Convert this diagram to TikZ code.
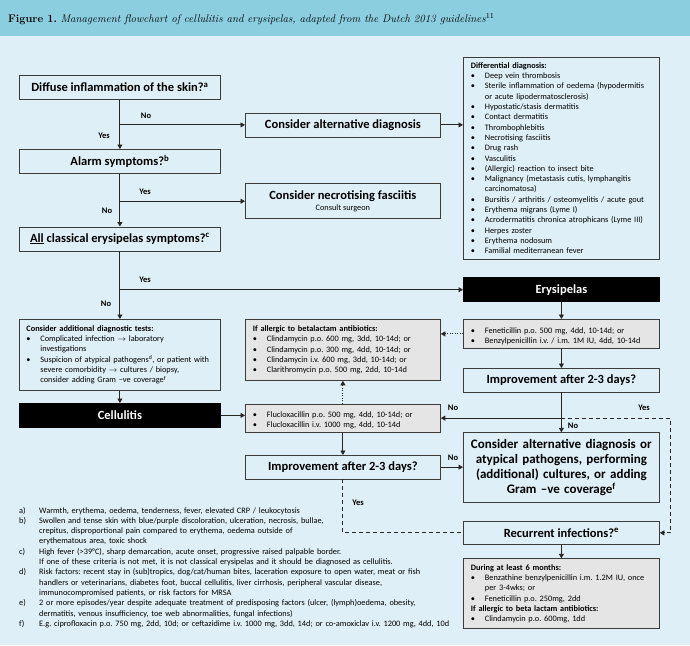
\documentclass[tikz,border=0pt]{standalone}
\usepackage{fontspec}
\newfontfamily\chartfont{Carlito}
\usetikzlibrary{arrows.meta}
\setlength{\parindent}{0pt}
\frenchspacing
\definecolor{headblue}{RGB}{139,206,224}
\definecolor{paleblue}{RGB}{222,239,247}
\definecolor{boxgrey}{RGB}{229,229,229}
\definecolor{edgegrey}{RGB}{60,60,60}
\newcommand{\itm}[1]{\par\hangindent=14pt\hangafter=1\noindent\makebox[14pt][l]{\textbullet}#1\par}
\newcommand{\fnote}[2]{\par\hangindent=20pt\hangafter=1\noindent\makebox[20pt][l]{#1}#2\par}
\begin{document}
\begin{tikzpicture}[x=1pt,y=-1pt,
    box/.style={draw=edgegrey,line width=0.8pt,fill=paleblue,anchor=north west,inner sep=0pt,font=\qfontsize},
    qbox/.style={box,align=center,minimum height=24pt},
    listbox/.style={box,align=left,inner xsep=7.5pt,font=\listfontsize},
    greybox/.style={listbox,fill=boxgrey},
    blackbox/.style={qbox,fill=black,draw=black,text=white},
    link/.style={draw=black!85,line width=0.9pt,-{Triangle[width=5pt,length=4.5pt]}},
    dotlink/.style={link,dash pattern=on 1pt off 1.5pt},
    dashlink/.style={draw=black!85,line width=0.9pt,dash pattern=on 4pt off 3pt},
    answer/.style={font=\answerfontsize,inner sep=0pt}]
    \pgfmathsetmacro{\colA}{19}
    \pgfmathsetmacro{\colB}{245}
    \pgfmathsetmacro{\colC}{463}
    \pgfmathsetmacro{\wA}{201}
    \pgfmathsetmacro{\wB}{195}
    \pgfmathsetmacro{\wC}{196}
    \providecommand{\headfontsize}{\fontsize{11}{13}\selectfont}
    \providecommand{\qfontsize}{\chartfont\bfseries\fontsize{12.5}{14}\selectfont}
    \providecommand{\bigfontsize}{\chartfont\bfseries\fontsize{13}{15}\selectfont}
    \providecommand{\listfontsize}{\chartfont\fontsize{8.3}{10.3}\selectfont}
    \providecommand{\answerfontsize}{\chartfont\bfseries\fontsize{8.5}{9}\selectfont}
    \useasboundingbox (0,0) rectangle (690,645);
    \fill[paleblue] (0,0) rectangle (690,645);
    \fill[headblue] (0,0) rectangle (690,36);
    \node[anchor=base west,inner sep=0pt,font=\headfontsize] (title) at (8,22.5)
    {\textbf{Figure \oldstylenums{1}.} \textit{Management flowchart of cellulitis and erysipelas, adapted from the Dutch \oldstylenums{2013} guidelines}\textsuperscript{\oldstylenums{11}}};
    % left column
    \node[qbox,minimum width=\wA pt] (diffuse) at (\colA,75) {Diffuse inflammation of the skin?\textsuperscript{a}};
    \node[qbox,minimum width=\wA pt] (alarm) at (\colA,149) {Alarm symptoms?\textsuperscript{b}};
    \node[qbox,minimum width=\wA pt] (allsym) at (\colA,226.5) {\underline{All} classical erysipelas symptoms?\textsuperscript{c}};
    \node[listbox,inner xsep=7pt,text width=\wA pt-14pt,minimum height=71pt] (addtest) at (\colA,319)
    {\textbf{Consider additional diagnostic tests:}
    \itm{Complicated infection $\rightarrow$ laboratory\newline investigations}
    \itm{Suspicion of atypical pathogens\textsuperscript{d}, or patient with\newline severe comorbidity $\rightarrow$ cultures / biopsy,\newline consider adding Gram –ve coverage\textsuperscript{f}}};
    \node[blackbox,minimum width=\wA pt] (cellulitis) at (\colA,403) {Cellulitis};
    % middle column
    \node[qbox,minimum width=\wB pt] (altdiag) at (\colB,112.5) {Consider alternative diagnosis};
    \node[qbox,minimum width=\wB pt,minimum height=35pt] (necro) at (\colB,183.3)
    {Consider necrotising fasciitis\\[-3pt]{\chartfont\mdseries\fontsize{8.3}{9}\selectfont Consult surgeon}};
    \node[greybox,text width=\wB pt-15pt,minimum height=61pt] (allergic) at (\colB,319)
    {\textbf{If allergic to betalactam antibiotics:}
    \itm{Clindamycin p.o. 600 mg, 3dd, 10-14d; or}
    \itm{Clindamycin p.o. 300 mg, 4dd, 10-14d; or}
    \itm{Clindamycin i.v. 600 mg, 3dd, 10-14d; or}
    \itm{Clarithromycin p.o. 500 mg, 2dd, 10-14d}};
    \node[greybox,text width=\wB pt-15pt,minimum height=28.5pt] (fluclox) at (\colB,403.5)
    {\itm{Flucloxacillin p.o. 500 mg, 4dd, 10-14d; or}
    \itm{Flucloxacillin i.v. 1000 mg, 4dd, 10-14d}};
    \node[qbox,minimum width=\wB pt,minimum height=23.5pt] (improveL) at (\colB,455) {Improvement after 2-3 days?};
    % right column
    \node[listbox,text width=\wC pt-15pt,minimum height=201.5pt] (diffdiag) at (\colC,57)
    {\textbf{Differential diagnosis:}
    \itm{Deep vein thrombosis}
    \itm{Sterile inflammation of oedema (hypodermitis\newline or acute lipodermatosclerosis)}
    \itm{Hypostatic/stasis dermatitis}
    \itm{Contact dermatitis}
    \itm{Thrombophlebitis}
    \itm{Necrotising fasciitis}
    \itm{Drug rash}
    \itm{Vasculitis}
    \itm{(Allergic) reaction to insect bite}
    \itm{Malignancy (metastasis cutis, lymphangitis\newline carcinomatosa)}
    \itm{Bursitis / arthritis / osteomyelitis / acute gout}
    \itm{Erythema migrans (Lyme I)}
    \itm{Acrodermatitis chronica atrophicans (Lyme III)}
    \itm{Herpes zoster}
    \itm{Erythema nodosum}
    \itm{Familial mediterranean fever}};
    \node[blackbox,minimum width=\wC pt] (erys) at (\colC,277.3) {Erysipelas};
    \node[greybox,text width=\wC pt-15pt,minimum height=29pt] (fenet) at (\colC,319)
    {\itm{Feneticillin p.o. 500 mg, 4dd, 10-14d; or}
    \itm{Benzylpenicillin i.v. / i.m. 1M IU, 4dd, 10-14d}};
    \node[qbox,minimum width=\wC pt,minimum height=23.5pt] (improveR) at (\colC,368) {Improvement after 2-3 days?};
    \node[box,minimum width=\wC pt,minimum height=70pt,text width=\wC pt-10pt,align=center,font=\bigfontsize] (altbig) at (\colC,432.3)
    {Consider alternative diagnosis or\\atypical pathogens, performing\\(additional) cultures, or adding\\Gram –ve coverage\textsuperscript{f}};
    \node[qbox,minimum width=\wC pt,minimum height=23.5pt] (recur) at (\colC,520.7) {Recurrent infections?\textsuperscript{e}};
    \node[greybox,text width=\wC pt-15pt,minimum height=70pt] (during) at (\colC,558.3)
    {\textbf{During at least 6 months:}
    \itm{Benzathine benzylpenicillin i.m. 1.2M IU, once\newline per 3-4wks; or}
    \itm{Feneticillin p.o. 250mg, 2dd}
    \noindent\textbf{If allergic to beta lactam antibiotics:}
    \itm{Clindamycin p.o. 600mg, 1dd}};
    % connectors
    \draw[link] (diffuse) -- (alarm);
    \draw[link] (diffuse.south |- altdiag.west) -- (altdiag.west);
    \draw[link] (altdiag.east) -- (altdiag.east -| diffdiag.west);
    \draw[link] (alarm) -- (allsym);
    \draw[link] (alarm.south |- necro.west) -- (necro.west);
    \draw[link] (allsym) -- (addtest);
    \draw[link] (allsym.south |- erys.west) -- (erys.west);
    \draw[link] (addtest) -- (cellulitis);
    \draw[link] (cellulitis.east) -- (cellulitis.east -| fluclox.west);
    \draw[dotlink] (fluclox) -- (allergic);
    \draw[link] (fluclox) -- (improveL);
    \draw[link] (improveL.east) -- (improveL.east -| altbig.west);
    \draw[link] (erys) -- (fenet);
    \draw[dotlink] (fenet.west) -- (fenet.west -| allergic.east);
    \draw[link] (fenet) -- (improveR);
    \draw[link] (improveR) -- (altbig);
    \coordinate (split) at (improveR.south |- fluclox.east);
    \path (split) ++(109.5,0) coordinate (turn);
    \draw[link] (split) -- (fluclox.east);
    \draw[dashlink,-{Triangle[width=5pt,length=4.5pt]}] (split) -- (turn) |- (recur.east);
    \draw[dashlink] (improveL.south) |- (recur.west);
    \draw[link] (recur) -- (during);
    % yes / no
    \node[answer] (no1) at (146,115.7) {No};
    \node[answer] (yes1) at (104,136) {Yes};
    \node[answer] (yes2) at (145,191.7) {Yes};
    \node[answer] (no2) at (107,211) {No};
    \node[answer] (yes3) at (145,280) {Yes};
    \node[answer] (no3) at (106,304) {No};
    \node[answer] (no4) at (453,408) {No};
    \node[answer] (no5) at (573,426) {No};
    \node[answer] (yes4) at (644,408) {Yes};
    \node[answer] (no6) at (453,458) {No};
    \node[answer] (yes5) at (358,503) {Yes};
    % footnotes
    \node[anchor=north west,inner sep=0pt,text width=440pt,align=left,font=\listfontsize] (notes) at (19,502.5)
    {\fnote{a)}{Warmth, erythema, oedema, tenderness, fever, elevated CRP / leukocytosis}
    \fnote{b)}{Swollen and tense skin with blue/purple discoloration, ulceration, necrosis, bullae,\newline crepitus, disproportional pain compared to erythema, oedema outside of\newline erythematous area, toxic shock}
    \fnote{c)}{High fever (>39°C), sharp demarcation, acute onset, progressive raised palpable border.\newline If one of these criteria is not met, it is not classical erysipelas and it should be diagnosed as cellulitis.}
    \fnote{d)}{Risk factors: recent stay in (sub)tropics, dog/cat/human bites, laceration exposure to open water, meat or fish\newline handlers or veterinarians, diabetes foot, buccal cellulitis, liver cirrhosis, peripheral vascular disease,\newline immunocompromised patients, or risk factors for MRSA}
    \fnote{e)}{2 or more episodes/year despite adequate treatment of predisposing factors (ulcer, (lymph)oedema, obesity,\newline dermatitis, venous insufficiency, toe web abnormalities, fungal infections)}
    \fnote{f)}{E.g. ciprofloxacin p.o. 750 mg, 2dd, 10d; or ceftazidime i.v. 1000 mg, 3dd, 14d; or co-amoxiclav i.v. 1200 mg, 4dd, 10d}};
\end{tikzpicture}
\end{document}
